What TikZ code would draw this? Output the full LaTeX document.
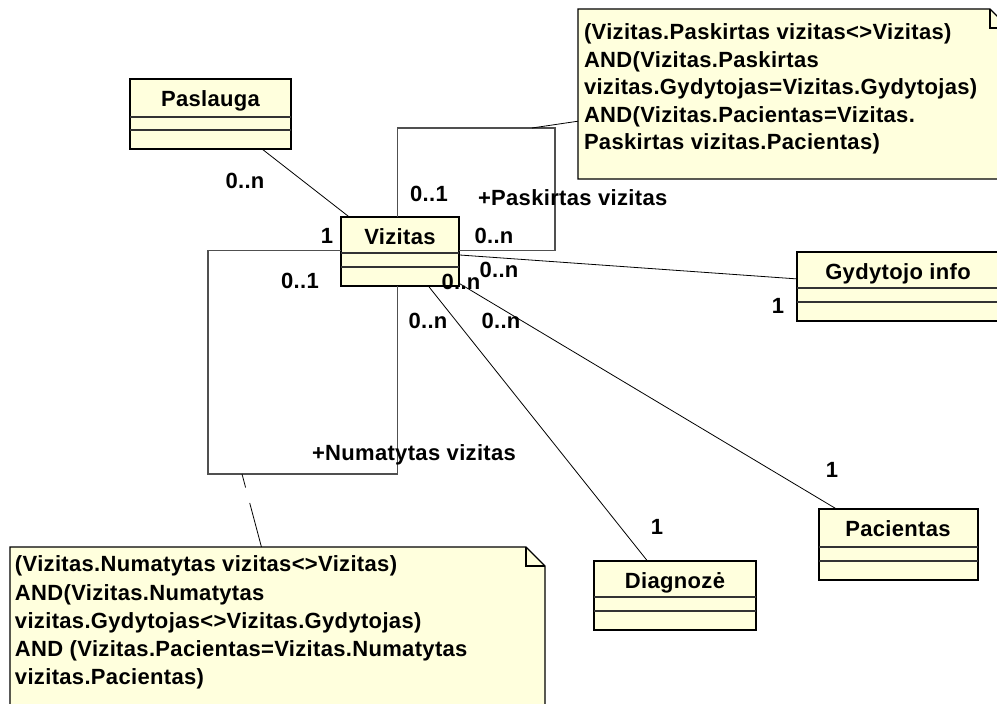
\documentclass[tikz,border=0pt]{standalone}
\usepackage{fontspec}
\setmainfont{Liberation Sans}[LetterSpace=1.5]
\usetikzlibrary{calc}
\definecolor{umlfill}{RGB}{255,255,221}
\definecolor{loopgray}{RGB}{80,80,80}
\begin{document}
\begin{tikzpicture}[x=1pt,y=-1pt,
  every node/.style={inner sep=0pt, outer sep=0pt, font=\fontsize{22}{27.5}\selectfont\bfseries},
  cls/.style={draw=black, line width=1.4pt, fill=umlfill, rectangle},
  divline/.style={draw=black!80, line width=1.1pt},
  assoc/.style={draw=black, line width=0.8pt},
  selfloop/.style={draw=loopgray, line width=1.2pt},
  notebody/.style={draw=black, line width=1.3pt, fill=umlfill},
  notelink/.style={draw=black, line width=0.8pt},
  notetext/.style={anchor=north west, align=left},
  mult/.style={anchor=base},
  role/.style={anchor=base west}
]
\useasboundingbox (0,0) rectangle (997,704);
\clip (0,0) rectangle (997,704);
\fill[white] (0,0) rectangle (997,704);

% class boxes
\node[cls, minimum width=161pt, minimum height=70pt] (pas) at (210.5,114) {};
\node[cls, minimum width=118pt, minimum height=69pt] (viz) at (400,251.5) {};
\node[cls, minimum width=203pt, minimum height=69pt] (gyd) at (898.5,286.5) {};
\node[cls, minimum width=162pt, minimum height=69pt] (dia) at (675,595.5) {};
\node[cls, minimum width=159pt, minimum height=71pt] (pac) at (898.5,544.5) {};

% compartment lines
\foreach \c/\a/\b in {pas/38/51, viz/36/50, gyd/36/50, dia/36/50, pac/38/52}{
  \draw[divline] ([yshift=-\a pt]\c.north west) -- ([yshift=-\a pt]\c.north east);
  \draw[divline] ([yshift=-\b pt]\c.north west) -- ([yshift=-\b pt]\c.north east);
}

% class names
\node[anchor=base] (pasT) at (210.5,106) {Paslauga};
\node[anchor=base] (vizT) at (400,244) {Vizitas};
\node[anchor=base] (gydT) at (898,279) {Gydytojo info};
\node[anchor=base] (diaT) at (675,588) {Diagnozė};
\node[anchor=base] (pacT) at (898,536) {Pacientas};

% associations
\draw[assoc] ($(pas.south west)!0.82!(pas.south east)$) -- ($(viz.north west)!0.07!(viz.north east)$);
\draw[assoc] ($(viz.north east)!0.55!(viz.south east)$) -- ($(gyd.north west)!0.39!(gyd.south west)$);
\draw[assoc] ($(viz.south west)!0.74!(viz.south east)$) -- ($(dia.north west)!0.33!(dia.north east)$);
\draw[assoc] ($(viz.north east)!0.96!(viz.south east)$) -- ($(pac.north west)!0.11!(pac.north east)$);

% reflexive associations
\draw[selfloop] ($(viz.north west)!0.48!(viz.north east)$) |- (555,128)
  |- ($(viz.north east)!0.48!(viz.south east)$);
\draw[selfloop] ($(viz.north west)!0.48!(viz.south west)$) -| (208,474)
  -| ($(viz.south west)!0.48!(viz.south east)$);
\coordinate (pk) at (532,128);
\coordinate (nm) at (242,474);

% constraint notes
\node[minimum width=431pt, minimum height=170pt] (n1) at (793.5,94) {};
\node[minimum width=535pt, minimum height=173pt] (n2) at (277.5,633.5) {};
\foreach \n in {n1,n2}{
  \draw[notebody] (\n.north west) -- ([xshift=-19pt]\n.north east) -- ([yshift=-19pt]\n.north east)
    -- (\n.south east) -- (\n.south west) -- cycle;
  \draw[notebody, fill=none] ([xshift=-19pt]\n.north east) |- ([yshift=-19pt]\n.north east);
}
\draw[notelink] (pk) -- ($(n1.north west)!0.66!(n1.south west)$);
\draw[notelink, dash pattern=on 14pt off 16pt on 80pt] (nm) -- ($(n2.north west)!0.47!(n2.north east)$);

\node[notetext] (n1T) at (584,24) {(Vizitas.Paskirtas vizitas<>Vizitas)\\
AND(Vizitas.Paskirtas\\
vizitas.Gydytojas=Vizitas.Gydytojas)\\
AND(Vizitas.Pacientas=Vizitas.\\
Paskirtas vizitas.Pacientas)};
\node[notetext, font=\fontsize{22}{28.2}\selectfont\bfseries] (n2T) at (15,556) {(Vizitas.Numatytas vizitas<>Vizitas)\\
AND(Vizitas.Numatytas\\
vizitas.Gydytojas<>Vizitas.Gydytojas)\\
AND (Vizitas.Pacientas=Vizitas.Numatytas\\
vizitas.Pacientas)};

% multiplicities and roles
\node[mult] (m1) at (245,188) {0..n};
\node[mult] (m2) at (429,201) {0..1};
\node[role] (r1) at (478,205) {+Paskirtas vizitas};
\node[mult] (m3) at (327,243) {1};
\node[mult] (m4) at (494,243) {0..n};
\node[mult] (m5) at (300,288) {0..1};
\node[mult] (m6) at (499,277) {0..n};
\node[mult] (m7) at (461,289) {0..n};
\node[mult] (m8) at (778,313) {1};
\node[mult] (m9) at (428,328) {0..n};
\node[mult] (m10) at (501,328) {0..n};
\node[role] (r2) at (312,460) {+Numatytas vizitas};
\node[mult] (m11) at (832,477) {1};
\node[mult] (m12) at (657,534) {1};
\end{tikzpicture}
\end{document}
